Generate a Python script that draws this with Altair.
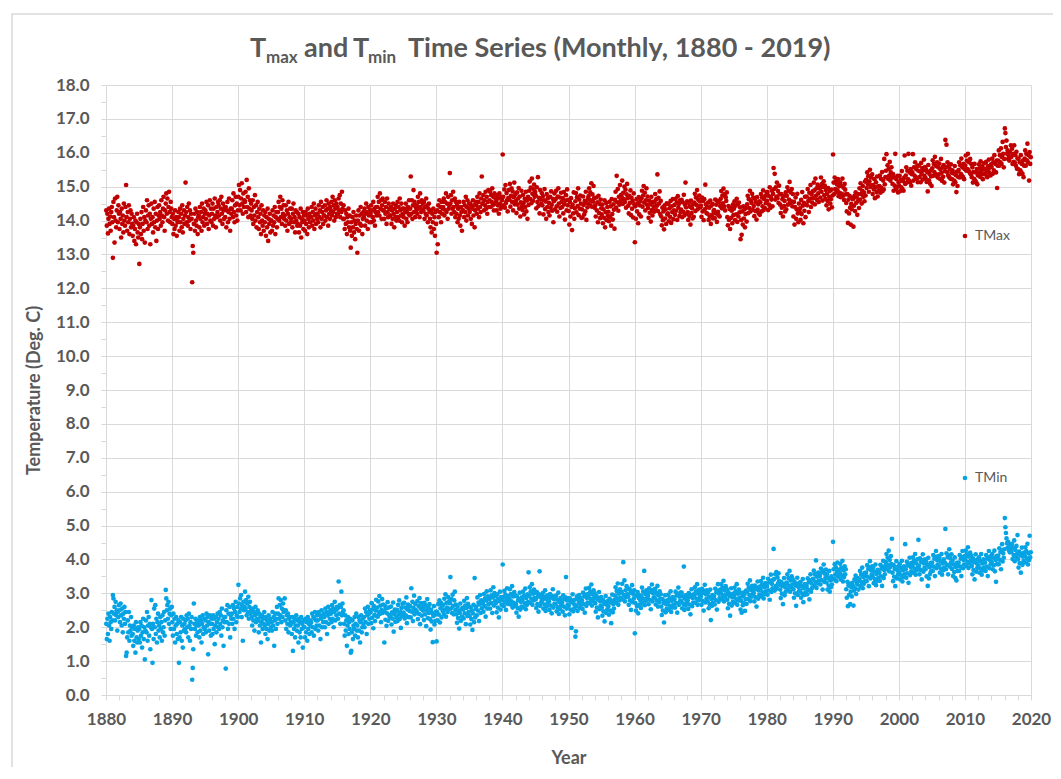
import altair as alt
import pandas as pd

# ---------------- data (monthly values) ----------------
decade_starts = [1880, 1890, 1900, 1910, 1920, 1930, 1940, 1950, 1960, 1970, 1980, 1990, 2000, 2010]

tmax_1880s = [
    14.30, 13.85, 14.20, 13.62, 14.05, 14.35, 13.90, 14.12, 13.70, 14.25, 14.40, 13.95,
    12.90, 14.55, 14.10, 13.35, 14.65, 14.00, 13.80, 14.30, 14.70, 13.95, 14.45, 14.20,
    13.75, 14.25, 14.05, 13.50, 14.35, 13.90, 14.15, 13.65, 14.50, 14.00, 13.85, 14.40,
    15.05, 14.10, 13.70, 14.25, 13.95, 14.45, 13.60, 14.05, 14.30, 13.80, 14.20, 13.90,
    13.55, 13.85, 14.10, 13.40, 13.75, 14.00, 13.30, 13.95, 14.20, 13.65, 13.50, 13.90,
    12.72, 13.80, 14.05, 13.60, 14.25, 13.45, 13.90, 14.40, 13.70, 14.10, 13.35, 14.00,
    14.30, 13.95, 14.60, 13.75, 14.15, 14.45, 13.85, 14.20, 13.30, 14.05, 14.50, 13.90,
    14.10, 13.65, 14.35, 13.95, 14.55, 13.80, 14.20, 13.40, 14.00, 14.40, 13.75, 14.15,
    14.45, 14.05, 14.25, 13.85, 14.60, 14.15, 13.95, 14.35, 14.70, 14.10, 13.70, 14.30,
    14.50, 14.80, 14.20, 14.65, 14.00, 14.40, 14.85, 14.25, 13.95, 14.55, 14.35, 14.10,
]
tmax_1890s = [
    13.90, 14.20, 13.60, 14.05, 13.75, 14.30, 13.85, 14.10, 13.55, 14.00, 13.95, 14.25,
    14.10, 13.70, 14.35, 13.95, 14.20, 13.80, 14.45, 13.65, 14.05, 14.30, 13.90, 14.15,
    15.12, 14.25, 13.95, 14.40, 13.85, 14.10, 14.50, 14.00, 14.30, 13.75, 14.20, 14.05,
    12.18, 13.25, 13.05, 13.90, 14.20, 13.70, 14.35, 14.00, 13.85, 14.25, 13.60, 14.10,
    14.15, 13.80, 14.40, 14.05, 14.25, 13.70, 14.50, 13.95, 14.10, 14.35, 13.85, 14.20,
    14.30, 14.05, 14.55, 13.90, 14.20, 14.45, 13.75, 14.15, 14.60, 14.00, 14.35, 13.95,
    14.20, 14.50, 13.85, 14.35, 14.05, 14.65, 14.15, 13.80, 14.40, 14.10, 14.25, 14.55,
    14.45, 14.15, 14.60, 14.00, 14.35, 14.70, 14.20, 13.90, 14.50, 14.30, 14.05, 14.40,
    14.10, 14.40, 13.80, 14.30, 14.55, 13.95, 14.25, 14.65, 14.05, 13.70, 14.35, 14.20,
    14.35, 14.60, 14.10, 14.80, 14.25, 13.95, 14.45, 14.70, 14.15, 14.50, 14.00, 14.30,
]
tmax_1900s = [
    14.70, 15.05, 14.45, 14.90, 14.30, 14.65, 15.10, 14.50, 14.20, 14.80, 14.40, 14.60,
    14.55, 14.85, 14.25, 15.20, 14.40, 14.70, 14.10, 14.95, 14.35, 14.60, 14.15, 14.50,
    14.30, 14.05, 14.60, 13.90, 14.40, 14.15, 14.75, 14.00, 14.45, 13.80, 14.25, 14.55,
    14.10, 13.75, 14.35, 13.95, 14.20, 13.60, 14.45, 14.00, 13.85, 14.30, 13.70, 14.15,
    13.95, 14.25, 13.55, 14.10, 13.80, 14.35, 13.40, 14.05, 13.90, 14.20, 13.65, 14.00,
    14.00, 13.70, 14.30, 13.85, 14.15, 13.95, 14.40, 13.60, 14.10, 14.25, 13.80, 14.05,
    14.25, 14.55, 14.00, 14.40, 14.70, 14.10, 14.35, 13.90, 14.60, 14.20, 14.45, 14.05,
    14.15, 13.85, 14.45, 14.00, 14.30, 13.70, 14.20, 14.55, 13.90, 14.10, 14.35, 13.95,
    14.05, 14.35, 13.80, 14.20, 14.50, 13.95, 14.10, 13.65, 14.30, 14.00, 14.25, 13.85,
    13.90, 14.20, 13.65, 14.10, 13.85, 14.35, 13.50, 14.05, 13.95, 14.25, 13.75, 14.15,
]
tmax_1910s = [
    14.00, 13.70, 14.25, 13.90, 14.15, 13.60, 14.35, 14.05, 13.80, 14.20, 13.95, 14.10,
    14.10, 14.40, 13.85, 14.25, 14.00, 14.50, 13.75, 14.15, 14.35, 13.90, 14.20, 14.05,
    14.20, 13.95, 14.45, 14.10, 14.30, 13.80, 14.55, 14.05, 14.25, 14.40, 13.90, 14.15,
    14.15, 14.45, 14.00, 14.30, 14.60, 14.10, 14.35, 13.85, 14.50, 14.20, 14.05, 14.40,
    14.30, 14.55, 14.15, 14.70, 14.25, 14.45, 14.00, 14.60, 14.35, 14.10, 14.50, 14.20,
    14.40, 14.20, 14.65, 14.30, 14.75, 14.10, 14.50, 14.25, 14.85, 14.35, 14.05, 14.45,
    14.05, 13.75, 14.30, 13.90, 14.20, 13.60, 14.10, 13.95, 14.35, 13.80, 14.15, 13.70,
    13.20, 13.95, 13.55, 14.10, 13.80, 14.25, 13.65, 14.00, 13.45, 13.90, 14.15, 13.75,
    13.05, 14.00, 14.30, 13.70, 14.15, 13.90, 14.40, 13.85, 14.20, 13.60, 14.05, 14.25,
    14.10, 14.35, 13.85, 14.20, 14.50, 14.00, 14.25, 13.75, 14.40, 14.15, 13.95, 14.30,
]
tmax_1920s = [
    14.20, 14.45, 13.95, 14.30, 14.10, 14.55, 14.00, 14.35, 13.85, 14.25, 14.40, 14.15,
    14.40, 14.70, 14.25, 14.55, 14.15, 14.80, 14.35, 14.60, 14.05, 14.45, 14.65, 14.30,
    14.30, 14.05, 14.55, 14.20, 14.40, 13.90, 14.65, 14.25, 14.10, 14.50, 14.35, 14.15,
    14.15, 14.40, 13.90, 14.30, 14.05, 14.50, 14.20, 13.80, 14.35, 14.10, 14.45, 14.00,
    14.25, 14.55, 14.10, 14.40, 14.00, 14.65, 14.30, 14.15, 14.50, 13.95, 14.35, 14.20,
    14.10, 14.35, 13.85, 14.25, 14.50, 14.05, 14.30, 13.95, 14.40, 14.20, 14.60, 14.15,
    14.35, 15.30, 14.20, 14.60, 14.05, 14.45, 14.90, 14.25, 14.55, 14.10, 14.40, 14.30,
    14.45, 14.20, 14.70, 14.35, 14.55, 14.10, 14.80, 14.40, 14.25, 14.60, 14.30, 14.50,
    14.30, 14.55, 14.05, 14.40, 14.20, 14.65, 14.15, 14.45, 13.95, 14.35, 14.50, 14.25,
    14.05, 13.80, 14.30, 13.65, 14.20, 13.95, 14.35, 13.75, 14.10, 13.55, 14.25, 13.90,
]
tmax_1930s = [
    13.05, 14.30, 13.30, 14.45, 14.10, 14.60, 14.25, 14.40, 13.95, 14.55, 14.20, 14.35,
    14.40, 14.65, 14.15, 14.55, 14.30, 14.80, 14.25, 14.50, 14.05, 14.70, 14.35, 14.45,
    15.40, 14.50, 14.75, 14.20, 14.60, 14.35, 14.85, 14.40, 14.25, 14.65, 14.10, 14.55,
    14.20, 14.45, 13.95, 14.35, 14.05, 14.55, 14.15, 13.85, 14.40, 14.25, 13.70, 14.30,
    14.30, 14.55, 14.10, 14.45, 14.25, 14.70, 14.00, 14.40, 14.60, 14.15, 14.35, 14.50,
    14.25, 14.50, 14.05, 14.40, 13.90, 14.35, 14.60, 14.15, 14.45, 13.80, 14.30, 14.55,
    14.45, 14.20, 14.70, 14.35, 14.55, 14.10, 14.80, 14.40, 14.25, 14.65, 15.30, 14.50,
    14.50, 14.75, 14.30, 14.60, 14.45, 14.85, 14.35, 14.70, 14.20, 14.55, 14.90, 14.40,
    14.60, 14.85, 14.40, 14.75, 14.55, 14.95, 14.45, 14.70, 14.30, 14.80, 14.50, 14.65,
    14.55, 14.30, 14.75, 14.45, 14.65, 14.20, 14.80, 14.50, 14.35, 14.70, 14.40, 14.60,
]
tmax_1940s = [
    15.95, 14.70, 14.45, 14.92, 14.38, 15.05, 14.52, 14.81, 14.60, 14.27, 14.66, 14.90,
    14.62, 15.08, 14.41, 14.73, 14.95, 14.55, 14.86, 14.30, 14.69, 15.12, 14.48, 14.77,
    14.58, 14.22, 14.83, 14.47, 14.65, 14.96, 14.35, 14.71, 14.12, 14.54, 14.88, 14.43,
    14.31, 14.76, 14.52, 14.18, 14.64, 14.40, 14.85, 14.27, 14.59, 14.05, 14.70, 14.46,
    14.88, 15.15, 14.63, 14.97, 14.51, 15.24, 14.79, 14.58, 14.92, 15.06, 14.70, 14.84,
    14.74, 14.36, 14.98, 14.55, 15.28, 14.43, 14.67, 14.21, 14.90, 14.62, 14.49, 14.81,
    14.45, 14.72, 14.18, 14.60, 14.93, 14.34, 14.56, 14.05, 14.78, 14.40, 14.66, 14.25,
    14.52, 14.15, 14.70, 14.38, 14.86, 14.47, 14.29, 14.64, 13.95, 14.57, 14.80, 14.33,
    14.63, 14.88, 14.42, 14.26, 14.71, 14.95, 14.50, 14.12, 14.68, 14.37, 14.82, 14.55,
    14.40, 14.66, 14.21, 14.84, 14.48, 14.03, 14.59, 14.75, 14.30, 14.92, 14.45, 14.61,
]
tmax_1950s = [
    14.28, 13.88, 14.55, 14.12, 14.66, 14.40, 13.72, 14.47, 14.21, 14.83, 14.05, 14.36,
    14.57, 14.81, 14.24, 14.69, 14.43, 14.95, 14.16, 14.62, 14.35, 14.74, 14.50, 14.08,
    14.33, 14.09, 14.71, 14.46, 14.18, 14.58, 14.27, 14.85, 14.02, 14.52, 14.39, 14.64,
    14.72, 14.95, 14.48, 14.83, 14.60, 15.10, 14.41, 14.77, 14.56, 15.02, 14.66, 14.38,
    14.45, 14.12, 14.68, 14.30, 14.54, 13.95, 14.73, 14.22, 14.49, 14.07, 14.62, 14.36,
    14.18, 14.47, 13.92, 14.33, 14.08, 14.60, 13.80, 14.25, 14.52, 14.01, 14.40, 14.14,
    14.26, 13.98, 14.55, 14.10, 14.42, 13.85, 14.63, 14.19, 14.03, 14.48, 14.32, 13.76,
    14.61, 14.85, 14.38, 15.32, 14.54, 14.93, 14.29, 14.70, 14.47, 15.05, 14.58, 14.76,
    14.70, 15.18, 14.49, 14.82, 14.63, 15.00, 14.55, 14.91, 14.38, 14.77, 15.08, 14.66,
    14.44, 14.21, 14.73, 14.52, 14.89, 14.16, 14.67, 14.35, 14.58, 14.09, 14.80, 14.48,
]
tmax_1960s = [
    13.36, 14.42, 14.05, 14.63, 14.27, 14.51, 13.92, 14.69, 14.18, 14.45, 14.58, 14.12,
    14.66, 14.88, 14.41, 14.74, 15.02, 14.53, 14.82, 14.30, 14.60, 14.95, 14.47, 14.71,
    14.37, 14.08, 14.59, 14.23, 14.48, 13.97, 14.70, 14.31, 14.15, 14.55, 14.42, 14.26,
    14.55, 14.78, 14.32, 14.63, 14.44, 15.36, 14.28, 14.67, 14.50, 14.86, 14.19, 14.58,
    14.12, 13.86, 14.38, 14.01, 14.27, 13.74, 14.45, 14.06, 14.33, 13.90, 14.51, 14.18,
    14.21, 14.49, 13.98, 14.36, 14.11, 14.58, 13.93, 14.42, 14.25, 14.63, 14.04, 14.30,
    14.46, 14.17, 14.64, 14.29, 14.53, 14.02, 14.72, 14.38, 14.49, 14.13, 14.60, 14.24,
    14.32, 14.61, 14.10, 14.54, 14.26, 14.76, 14.15, 14.47, 15.12, 14.39, 14.20, 14.57,
    14.25, 14.02, 14.52, 14.14, 14.41, 13.88, 14.59, 14.22, 14.36, 14.06, 14.48, 14.11,
    14.53, 14.79, 14.28, 14.68, 14.46, 14.90, 14.33, 14.62, 14.41, 14.74, 14.57, 14.39,
]
tmax_1970s = [
    14.44, 14.11, 14.68, 14.27, 14.58, 14.01, 14.63, 14.33, 15.06, 14.48, 14.22, 14.40,
    14.20, 14.53, 14.02, 14.38, 14.12, 14.59, 13.90, 14.44, 14.17, 14.49, 14.06, 14.28,
    14.31, 14.07, 14.62, 14.21, 14.47, 13.96, 14.58, 14.26, 14.16, 14.55, 14.12, 14.43,
    14.64, 14.87, 14.36, 14.74, 14.51, 14.94, 14.42, 14.78, 14.30, 14.69, 14.58, 14.83,
    14.10, 13.86, 14.43, 14.02, 14.34, 13.75, 14.38, 14.08, 14.29, 13.92, 14.47, 14.16,
    14.35, 14.57, 14.01, 14.44, 14.18, 14.64, 13.96, 14.49, 14.12, 14.53, 14.24, 14.39,
    13.45, 14.02, 13.58, 14.27, 13.88, 14.42, 14.06, 14.33, 13.80, 14.19, 14.37, 13.97,
    14.48, 14.73, 14.22, 14.63, 14.37, 14.88, 14.27, 14.58, 14.52, 14.79, 14.32, 14.68,
    14.43, 14.13, 14.64, 14.28, 14.54, 14.03, 14.69, 14.32, 14.48, 14.21, 14.57, 14.17,
    14.54, 14.78, 14.27, 14.68, 14.42, 14.89, 14.31, 14.63, 14.37, 14.73, 14.51, 14.84,
]
tmax_1980s = [
    14.58, 14.84, 14.31, 14.73, 14.47, 14.98, 14.37, 14.69, 14.62, 14.88, 14.42, 14.79,
    15.55, 14.93, 15.38, 14.62, 14.98, 14.71, 15.12, 14.66, 14.87, 14.52, 15.03, 14.77,
    14.47, 14.22, 14.78, 14.38, 14.63, 14.12, 14.72, 14.43, 14.58, 14.27, 14.83, 14.33,
    14.73, 14.98, 14.47, 14.88, 14.62, 15.14, 14.52, 14.83, 14.57, 14.93, 14.42, 14.78,
    14.12, 14.55, 13.88, 14.40, 14.68, 14.05, 14.33, 14.79, 14.21, 13.95, 14.50, 14.27,
    14.36, 14.02, 14.61, 14.19, 14.84, 14.44, 13.92, 14.52, 14.29, 14.70, 14.10, 14.47,
    14.71, 14.45, 14.93, 14.58, 14.25, 14.82, 14.64, 15.05, 14.40, 14.77, 14.53, 14.86,
    14.66, 15.12, 14.89, 14.48, 15.24, 14.73, 14.95, 14.61, 15.06, 14.80, 14.55, 15.00,
    14.94, 14.68, 15.27, 14.85, 15.08, 14.59, 14.99, 15.16, 14.75, 15.03, 14.64, 14.90,
    14.45, 14.79, 14.58, 14.96, 14.33, 14.70, 14.87, 14.50, 14.63, 14.91, 14.39, 14.74,
]
tmax_1990s = [
    15.95, 15.12, 14.78, 15.27, 14.93, 15.16, 14.84, 15.07, 14.89, 15.22, 14.72, 15.01,
    14.82, 15.13, 14.69, 15.02, 14.79, 15.24, 14.73, 14.97, 14.61, 15.08, 14.91, 14.77,
    14.52, 14.27, 14.78, 13.93, 14.62, 14.21, 14.73, 14.38, 13.88, 14.49, 14.33, 14.67,
    14.63, 13.82, 14.44, 14.73, 14.28, 14.83, 14.52, 14.68, 14.17, 14.57, 14.78, 14.37,
    14.95, 14.62, 15.10, 14.78, 14.50, 14.88, 15.02, 14.70, 14.83, 14.57, 15.15, 14.74,
    15.20, 14.96, 15.42, 15.08, 15.31, 14.85, 15.16, 15.50, 14.99, 15.27, 15.05, 15.36,
    14.78, 15.05, 14.92, 15.22, 14.66, 14.98, 15.13, 14.84, 15.30, 14.71, 15.01, 14.89,
    15.02, 15.33, 14.82, 15.23, 14.97, 15.43, 14.87, 15.18, 14.92, 15.82, 15.07, 15.28,
    15.47, 15.96, 15.28, 15.63, 15.23, 15.52, 15.33, 15.73, 15.18, 15.42, 15.57, 15.27,
    15.08, 15.37, 14.88, 15.27, 15.03, 15.97, 14.93, 15.22, 14.98, 15.32, 14.83, 15.13,
]
tmax_2000s = [
    15.03, 15.32, 14.87, 15.21, 14.98, 15.46, 14.93, 15.16, 14.88, 15.26, 15.92, 15.08,
    15.33, 15.57, 15.12, 15.47, 15.22, 15.97, 15.18, 15.42, 15.13, 15.52, 15.03, 15.37,
    15.42, 15.96, 15.18, 15.57, 15.33, 15.72, 15.28, 15.52, 15.23, 15.62, 15.13, 15.47,
    15.62, 15.28, 15.45, 15.13, 15.70, 15.37, 15.55, 15.21, 15.48, 15.80, 15.32, 15.58,
    15.25, 15.51, 15.14, 15.43, 14.86, 15.64, 15.19, 15.38, 15.09, 15.47, 15.30, 15.02,
    15.54, 15.78, 15.32, 15.67, 15.43, 15.88, 15.37, 15.61, 15.33, 15.72, 15.27, 15.57,
    15.36, 15.68, 15.23, 15.51, 15.82, 15.40, 15.17, 15.58, 15.29, 15.64, 15.12, 15.46,
    16.38, 15.57, 16.24, 15.43, 15.72, 15.33, 15.62, 15.28, 15.52, 15.24, 15.66, 15.41,
    15.22, 15.48, 15.07, 15.39, 15.18, 15.61, 15.13, 15.34, 14.84, 15.44, 15.02, 15.29,
    15.49, 15.72, 15.27, 15.63, 15.38, 15.83, 15.33, 15.57, 15.28, 15.67, 15.22, 15.52,
]
tmax_2010s = [
    15.63, 15.92, 15.47, 15.77, 15.52, 15.97, 15.48, 15.72, 15.42, 15.82, 15.37, 15.67,
    15.28, 15.57, 15.12, 15.43, 15.23, 15.67, 15.18, 15.42, 15.13, 15.52, 15.07, 15.33,
    15.41, 15.66, 15.54, 15.29, 15.75, 15.47, 15.36, 15.60, 15.22, 15.51, 15.69, 15.38,
    15.52, 15.36, 15.73, 15.45, 15.28, 15.61, 15.49, 15.80, 15.40, 15.57, 15.33, 15.66,
    15.58, 15.83, 15.38, 15.72, 15.48, 15.93, 15.43, 15.67, 15.42, 15.77, 14.96, 15.62,
    15.77, 16.07, 15.62, 15.93, 15.72, 16.13, 15.67, 15.87, 16.32, 15.97, 15.57, 15.82,
    16.72, 16.58, 16.17, 16.36, 15.97, 16.07, 15.82, 15.92, 15.77, 16.02, 15.87, 16.22,
    15.88, 16.12, 15.67, 15.97, 15.73, 16.22, 15.71, 15.93, 15.62, 16.03, 15.53, 15.83,
    15.52, 15.83, 15.37, 15.72, 15.48, 15.93, 15.42, 15.67, 15.38, 15.77, 15.28, 15.62,
    15.83, 16.07, 15.62, 15.97, 15.78, 16.27, 15.72, 15.93, 15.18, 16.02, 15.67, 15.87,
]

tmin_1880s = [
    2.10, 1.65, 2.25, 1.80, 2.40, 2.05, 1.60, 2.30, 2.15, 1.95, 2.45, 2.20,
    2.95, 2.85, 2.40, 2.60, 2.20, 2.75, 2.35, 2.50, 1.90, 2.45, 2.30, 2.65,
    2.50, 2.15, 2.70, 2.35, 2.05, 2.55, 1.85, 2.40, 2.25, 2.60, 2.10, 2.45,
    1.15, 1.25, 1.70, 2.20, 1.85, 2.45, 1.60, 2.05, 1.90, 2.30, 1.75, 2.00,
    1.80, 1.45, 2.05, 1.60, 1.95, 1.25, 2.15, 1.70, 1.55, 1.90, 2.00, 1.65,
    1.95, 1.55, 2.15, 1.75, 2.05, 1.40, 1.85, 2.25, 1.65, 2.00, 1.05, 1.90,
    2.20, 1.85, 2.45, 1.60, 2.05, 2.30, 1.75, 2.10, 1.35, 2.00, 2.80, 1.95,
    0.95, 2.10, 1.65, 2.55, 2.00, 2.65, 1.80, 2.25, 1.55, 2.15, 2.40, 1.90,
    2.05, 1.70, 2.30, 1.95, 2.15, 1.60, 2.35, 1.85, 2.00, 2.45, 1.75, 2.20,
    3.10, 2.85, 2.50, 2.65, 2.25, 2.75, 2.10, 2.40, 2.55, 1.95, 2.35, 2.60,
]
tmin_1890s = [
    2.15, 1.75, 2.40, 1.95, 2.25, 1.55, 2.05, 2.30, 1.80, 2.10, 1.65, 2.20,
    0.95, 1.70, 2.15, 1.85, 2.30, 1.60, 2.05, 1.40, 2.25, 1.90, 2.10, 1.95,
    2.20, 1.85, 2.35, 2.00, 2.25, 1.70, 2.40, 2.05, 1.60, 2.15, 1.95, 2.30,
    0.45, 0.80, 1.35, 2.70, 2.10, 1.95, 2.25, 1.75, 2.05, 2.20, 1.85, 2.15,
    2.05, 1.70, 2.30, 1.90, 2.20, 1.55, 2.10, 2.35, 1.80, 2.00, 2.25, 1.95,
    2.20, 1.85, 2.40, 2.05, 2.30, 1.20, 2.15, 1.90, 2.35, 2.10, 1.75, 2.25,
    2.10, 1.80, 2.35, 1.95, 2.25, 1.50, 2.05, 2.30, 1.85, 2.15, 2.40, 2.00,
    2.25, 1.95, 2.45, 2.10, 2.35, 1.75, 2.55, 2.00, 2.20, 1.45, 2.30, 2.15,
    2.30, 0.78, 2.50, 2.15, 2.65, 1.95, 2.40, 2.10, 2.60, 1.70, 2.35, 2.25,
    2.40, 2.10, 2.65, 2.25, 2.55, 1.95, 2.45, 2.75, 2.15, 2.35, 2.60, 2.30,
]
tmin_1900s = [
    3.25, 2.70, 2.45, 2.85, 2.55, 2.95, 2.30, 2.65, 1.60, 2.75, 2.50, 2.60,
    3.05, 2.55, 2.80, 2.35, 2.70, 2.45, 2.90, 2.25, 2.60, 2.75, 2.40, 2.50,
    2.30, 2.05, 2.55, 2.20, 2.45, 1.90, 2.35, 2.60, 2.15, 2.40, 2.25, 2.50,
    2.20, 1.85, 2.40, 2.05, 2.30, 1.55, 2.15, 2.35, 1.95, 2.25, 2.10, 2.45,
    2.05, 1.80, 2.30, 1.95, 2.20, 1.65, 2.10, 2.35, 1.90, 2.15, 2.25, 2.00,
    2.15, 1.90, 2.45, 2.05, 2.30, 1.45, 2.20, 2.40, 1.95, 2.25, 2.60, 2.10,
    2.40, 2.85, 2.25, 2.65, 2.35, 2.80, 2.15, 2.55, 2.30, 2.70, 2.45, 2.50,
    2.85, 2.20, 2.50, 1.95, 2.35, 2.10, 2.40, 1.85, 2.25, 2.30, 2.05, 2.15,
    2.10, 1.80, 2.30, 1.30, 2.15, 1.95, 2.25, 1.70, 2.05, 2.35, 1.90, 2.20,
    2.05, 1.55, 2.25, 1.85, 2.15, 1.70, 2.30, 1.95, 2.10, 1.40, 2.20, 2.00,
]
tmin_1910s = [
    2.00, 1.70, 2.25, 1.85, 2.15, 1.60, 2.30, 1.95, 2.10, 1.80, 2.20, 2.05,
    2.15, 1.85, 2.40, 2.00, 2.30, 1.75, 2.25, 2.45, 1.95, 2.20, 2.05, 2.35,
    2.20, 1.90, 2.45, 2.05, 2.35, 1.65, 2.25, 2.50, 2.00, 2.30, 2.15, 2.40,
    2.30, 2.00, 2.55, 2.15, 2.45, 1.80, 2.35, 2.60, 2.10, 2.40, 2.25, 2.50,
    2.40, 2.15, 2.65, 2.25, 2.55, 2.00, 2.45, 2.75, 2.20, 2.50, 2.35, 2.60,
    2.55, 2.25, 3.35, 2.40, 2.65, 2.10, 2.60, 3.05, 2.35, 2.70, 2.45, 2.50,
    2.10, 1.75, 2.35, 1.90, 2.20, 1.45, 2.05, 2.30, 1.80, 2.15, 1.95, 2.25,
    1.25, 1.30, 1.85, 2.20, 1.65, 2.05, 1.95, 2.30, 1.75, 2.10, 2.40, 1.90,
    2.05, 1.70, 2.30, 1.90, 2.20, 1.55, 2.15, 2.35, 1.85, 2.00, 2.25, 2.10,
    2.30, 2.00, 2.55, 2.15, 2.45, 1.80, 2.35, 2.60, 2.10, 2.40, 2.25, 2.50,
]
tmin_1920s = [
    2.44, 2.12, 2.71, 2.28, 2.53, 1.97, 2.62, 2.36, 2.18, 2.49, 2.81, 2.33,
    2.58, 2.31, 2.76, 2.45, 2.92, 2.39, 2.64, 2.15, 2.51, 2.83, 2.42, 2.67,
    2.47, 1.55, 2.63, 2.22, 2.55, 2.04, 2.41, 2.74, 2.19, 2.58, 2.35, 2.29,
    2.32, 2.61, 2.08, 2.44, 2.25, 2.73, 1.87, 2.38, 2.52, 2.16, 2.47, 2.29,
    2.51, 2.18, 2.66, 2.37, 2.79, 2.24, 2.45, 1.98, 2.57, 2.33, 2.69, 2.41,
    2.43, 2.72, 2.26, 2.58, 2.35, 2.88, 2.12, 2.52, 2.67, 2.30, 2.61, 2.48,
    2.62, 2.29, 3.15, 2.46, 2.75, 2.18, 2.57, 2.93, 2.38, 2.69, 2.51, 2.44,
    2.46, 2.77, 2.24, 2.63, 2.39, 2.86, 2.09, 2.55, 2.71, 2.34, 2.60, 2.49,
    2.55, 2.21, 2.72, 2.38, 2.64, 2.03, 2.50, 2.83, 2.27, 2.59, 2.42, 2.68,
    2.24, 1.93, 2.51, 2.17, 2.42, 1.56, 2.33, 2.62, 2.08, 2.37, 2.19, 2.46,
]
tmin_1930s = [
    1.58, 2.45, 2.20, 2.68, 2.37, 2.79, 2.14, 2.56, 2.71, 2.29, 2.63, 2.48,
    2.66, 2.39, 2.84, 2.52, 2.97, 2.31, 2.72, 2.58, 2.45, 2.89, 2.54, 2.77,
    2.71, 3.48, 2.55, 2.83, 2.42, 2.96, 2.63, 2.38, 2.79, 3.05, 2.51, 2.67,
    2.38, 2.13, 2.61, 2.27, 2.49, 1.96, 2.42, 2.70, 2.19, 2.53, 2.31, 2.57,
    2.52, 2.26, 2.78, 2.41, 2.64, 2.09, 2.57, 2.86, 2.33, 2.69, 2.45, 2.61,
    2.33, 2.08, 2.58, 2.24, 2.49, 1.92, 2.41, 2.66, 2.15, 3.45, 2.29, 2.54,
    2.61, 2.35, 2.88, 2.49, 2.73, 2.18, 2.67, 2.95, 2.42, 2.79, 2.56, 2.70,
    2.74, 2.46, 2.98, 2.62, 2.85, 2.31, 2.79, 3.06, 2.55, 2.91, 2.68, 2.83,
    2.83, 2.55, 3.09, 2.71, 2.94, 2.42, 2.88, 3.18, 2.64, 3.01, 2.77, 2.92,
    2.72, 2.44, 2.97, 2.58, 2.84, 2.29, 2.77, 3.05, 2.52, 2.89, 2.66, 2.81,
]
tmin_1940s = [
    3.85, 2.88, 2.62, 3.07, 2.74, 2.96, 2.51, 2.83, 3.15, 2.69, 2.92, 2.78,
    2.85, 3.12, 2.67, 2.98, 2.76, 3.21, 2.58, 2.91, 2.72, 3.04, 2.63, 2.94,
    2.68, 2.43, 2.91, 2.57, 2.79, 2.31, 2.84, 3.02, 2.52, 2.75, 2.61, 2.88,
    2.81, 3.05, 2.59, 2.93, 2.71, 3.14, 2.53, 2.86, 2.66, 2.97, 2.74, 3.62,
    2.93, 3.18, 2.72, 3.06, 2.84, 3.27, 2.66, 2.99, 2.79, 3.11, 2.87, 3.02,
    2.82, 2.57, 3.04, 2.68, 2.91, 2.46, 2.97, 3.65, 2.63, 2.88, 2.74, 2.95,
    2.79, 3.01, 2.55, 2.89, 2.67, 3.09, 2.48, 2.83, 2.61, 2.94, 2.72, 2.86,
    2.76, 2.51, 2.98, 2.64, 2.87, 2.41, 2.92, 3.12, 2.58, 2.83, 2.69, 2.90,
    2.68, 2.93, 2.47, 2.81, 2.59, 3.02, 2.39, 2.74, 2.53, 2.86, 2.64, 2.77,
    2.72, 2.46, 2.94, 2.61, 2.83, 2.35, 2.88, 3.48, 2.55, 2.79, 2.66, 2.85,
]
tmin_1950s = [
    2.63, 2.38, 2.85, 2.52, 2.74, 1.98, 2.79, 2.97, 2.47, 2.69, 2.56, 2.81,
    1.72, 1.88, 2.62, 2.91, 2.48, 2.83, 2.71, 2.95, 2.57, 2.86, 2.66, 2.78,
    2.79, 2.54, 3.02, 2.68, 2.91, 2.43, 2.96, 3.14, 2.63, 2.86, 2.73, 2.98,
    2.92, 3.16, 2.71, 3.05, 2.83, 3.26, 2.64, 2.97, 2.78, 3.09, 2.86, 3.01,
    2.71, 2.46, 2.93, 2.58, 2.82, 2.29, 2.87, 3.04, 2.53, 2.77, 2.64, 2.89,
    2.58, 2.34, 2.81, 2.47, 2.69, 2.17, 2.74, 2.92, 2.42, 2.66, 2.53, 2.77,
    2.62, 2.37, 2.84, 2.49, 2.73, 2.12, 2.78, 2.96, 2.44, 2.68, 2.55, 2.80,
    2.93, 3.18, 2.72, 3.07, 2.85, 3.29, 2.66, 2.99, 2.79, 3.12, 2.87, 3.03,
    3.04, 3.28, 2.82, 3.92, 2.95, 3.38, 2.76, 3.09, 2.89, 3.21, 2.97, 3.13,
    2.91, 2.66, 3.13, 2.79, 3.02, 2.51, 3.07, 3.24, 2.74, 2.98, 2.85, 3.09,
]
tmin_1960s = [
    1.82, 2.71, 2.49, 2.93, 2.62, 3.04, 2.41, 2.86, 2.95, 2.67, 2.79, 2.57,
    2.92, 3.17, 2.71, 3.05, 2.84, 3.66, 2.65, 2.98, 2.78, 3.09, 2.86, 3.01,
    2.93, 2.68, 3.15, 2.81, 3.04, 2.53, 3.09, 3.26, 2.76, 3.00, 2.87, 3.11,
    2.88, 3.13, 2.67, 3.01, 2.79, 3.22, 2.61, 2.94, 2.74, 3.06, 2.83, 2.97,
    2.61, 2.36, 2.83, 2.49, 2.72, 2.14, 2.77, 2.94, 2.44, 2.68, 2.55, 2.79,
    2.72, 2.96, 2.51, 2.85, 2.63, 3.06, 2.45, 2.78, 2.58, 2.89, 2.66, 2.81,
    2.83, 2.58, 3.05, 2.71, 2.94, 2.43, 2.99, 3.17, 2.66, 2.90, 2.77, 3.02,
    2.77, 3.02, 2.56, 2.91, 2.69, 3.79, 2.51, 2.84, 2.64, 2.95, 2.73, 2.87,
    2.79, 2.54, 3.01, 2.67, 2.90, 2.38, 2.95, 3.12, 2.62, 2.86, 2.73, 2.97,
    2.93, 3.18, 2.72, 3.06, 2.84, 3.27, 2.66, 2.99, 2.79, 3.11, 2.87, 3.02,
]
tmin_1970s = [
    2.91, 2.66, 3.13, 2.78, 3.01, 2.49, 3.07, 3.25, 2.73, 2.97, 2.84, 3.09,
    2.77, 3.02, 2.56, 2.90, 2.68, 3.11, 2.21, 2.83, 2.63, 2.95, 2.72, 2.87,
    2.92, 2.67, 3.14, 2.80, 3.03, 2.52, 3.08, 3.27, 2.75, 2.99, 2.86, 3.11,
    3.03, 3.27, 2.82, 3.16, 2.94, 3.37, 2.76, 3.09, 2.89, 3.21, 2.97, 3.12,
    2.81, 2.56, 3.03, 2.69, 2.92, 2.34, 2.97, 3.15, 2.64, 2.88, 2.75, 2.99,
    2.93, 3.17, 2.72, 3.06, 2.84, 3.27, 2.66, 2.99, 2.79, 3.11, 2.87, 3.02,
    2.52, 2.78, 2.43, 2.91, 2.65, 3.02, 2.71, 2.96, 2.48, 2.83, 3.08, 2.69,
    3.04, 3.28, 2.83, 3.17, 2.95, 3.38, 2.77, 3.10, 2.90, 3.22, 2.98, 3.13,
    3.01, 2.76, 3.23, 2.89, 3.12, 2.61, 3.17, 3.35, 2.84, 3.08, 2.95, 3.20,
    3.12, 3.36, 2.91, 3.25, 3.03, 3.46, 2.85, 3.18, 2.98, 3.30, 3.06, 3.21,
]
tmin_1980s = [
    3.21, 2.96, 3.43, 3.09, 3.32, 2.81, 3.37, 3.55, 3.04, 3.28, 3.15, 3.40,
    4.31, 3.42, 3.08, 3.56, 3.21, 3.63, 3.14, 3.47, 3.29, 3.59, 3.36, 3.25,
    3.11, 2.86, 3.33, 2.99, 3.22, 2.68, 3.27, 3.45, 2.94, 3.18, 3.05, 3.30,
    3.32, 3.56, 3.11, 3.45, 3.23, 3.66, 3.05, 3.38, 3.18, 3.50, 3.26, 3.41,
    3.12, 2.87, 3.34, 3.00, 3.23, 2.63, 3.28, 3.46, 2.95, 3.19, 3.06, 3.31,
    3.08, 3.33, 2.87, 3.21, 2.99, 3.42, 2.74, 3.15, 2.95, 3.27, 3.03, 3.18,
    3.22, 2.97, 3.44, 3.10, 3.33, 2.82, 3.38, 3.56, 3.05, 3.29, 3.16, 3.41,
    3.43, 3.67, 3.22, 3.56, 3.34, 3.97, 3.16, 3.49, 3.29, 3.61, 3.37, 3.52,
    3.51, 3.26, 3.73, 3.39, 3.62, 3.11, 3.67, 3.85, 3.34, 3.58, 3.45, 3.70,
    3.32, 3.56, 3.11, 3.45, 3.23, 3.66, 3.05, 3.38, 3.18, 3.50, 3.26, 3.41,
]
tmin_1990s = [
    4.52, 3.71, 3.42, 3.86, 3.55, 3.77, 3.36, 3.64, 3.91, 3.49, 3.69, 3.58,
    3.62, 3.87, 3.41, 3.75, 3.53, 3.96, 3.35, 3.68, 3.48, 3.80, 3.56, 3.71,
    3.12, 2.87, 3.34, 2.62, 3.23, 2.95, 3.28, 2.68, 3.05, 3.19, 2.91, 3.31,
    3.22, 2.64, 3.08, 3.41, 3.15, 3.52, 2.98, 3.33, 3.26, 3.45, 3.11, 3.37,
    3.42, 3.66, 3.21, 3.55, 3.33, 3.76, 3.15, 3.48, 3.28, 3.60, 3.36, 3.51,
    3.61, 3.36, 3.83, 3.49, 3.72, 3.21, 3.77, 3.95, 3.44, 3.68, 3.55, 3.80,
    3.51, 3.76, 3.30, 3.64, 3.42, 3.85, 3.24, 3.57, 3.37, 3.69, 3.45, 3.60,
    3.62, 3.37, 3.84, 3.50, 3.73, 3.22, 3.78, 3.96, 3.45, 3.69, 3.56, 3.81,
    3.92, 4.16, 3.71, 4.05, 3.83, 4.26, 3.65, 3.98, 3.78, 4.10, 3.86, 4.61,
    3.61, 3.36, 3.83, 3.49, 3.72, 3.21, 3.77, 3.95, 3.44, 3.68, 3.55, 3.80,
]
tmin_2000s = [
    3.62, 3.86, 3.41, 3.75, 3.53, 3.96, 3.35, 3.68, 3.48, 3.80, 3.56, 4.45,
    3.71, 3.46, 3.93, 3.59, 3.82, 3.31, 3.87, 4.05, 3.54, 3.78, 3.65, 3.90,
    3.82, 4.06, 3.61, 3.95, 3.73, 4.16, 3.55, 3.88, 3.68, 4.00, 3.76, 4.58,
    3.81, 3.56, 4.03, 3.69, 3.92, 3.41, 3.97, 4.15, 3.64, 3.88, 3.75, 4.00,
    3.71, 3.95, 3.50, 3.84, 3.22, 4.05, 3.44, 3.77, 3.57, 3.89, 3.65, 3.80,
    3.91, 3.66, 4.13, 3.79, 4.02, 3.51, 4.07, 4.25, 3.74, 3.98, 3.85, 4.10,
    3.82, 4.06, 3.61, 3.95, 3.73, 4.16, 3.55, 3.88, 3.68, 4.00, 3.76, 3.91,
    4.90, 3.71, 4.18, 3.84, 4.07, 3.56, 4.12, 4.30, 3.79, 4.03, 3.90, 4.15,
    3.72, 3.96, 3.51, 3.85, 3.63, 4.06, 3.45, 3.78, 3.38, 3.90, 3.66, 3.81,
    3.91, 3.66, 4.13, 3.79, 4.02, 3.51, 4.07, 4.25, 3.74, 3.98, 3.85, 4.10,
]
tmin_2010s = [
    4.02, 4.26, 3.81, 4.15, 3.93, 4.36, 3.75, 4.08, 3.88, 4.20, 3.96, 4.11,
    3.81, 3.56, 4.03, 3.69, 3.92, 3.41, 3.97, 4.15, 3.64, 3.88, 3.75, 4.00,
    3.82, 4.06, 3.61, 3.95, 3.73, 4.16, 3.55, 3.88, 3.68, 4.00, 3.76, 3.91,
    3.91, 3.66, 4.13, 3.79, 4.02, 3.51, 4.07, 4.25, 3.74, 3.98, 3.85, 4.10,
    3.92, 4.16, 3.71, 4.05, 3.83, 4.26, 3.65, 3.98, 3.34, 4.10, 3.86, 4.01,
    4.11, 3.86, 4.33, 3.99, 4.22, 3.71, 4.27, 4.45, 3.94, 4.18, 4.05, 4.30,
    5.22, 4.95, 4.78, 4.62, 4.48, 4.35, 4.52, 4.28, 4.40, 4.21, 4.44, 4.33,
    4.22, 4.46, 4.01, 4.35, 4.13, 4.56, 3.95, 4.28, 4.08, 4.40, 4.16, 4.72,
    4.01, 3.76, 4.23, 3.89, 4.12, 3.61, 4.17, 4.35, 3.84, 4.08, 3.95, 4.20,
    4.12, 4.36, 3.91, 4.25, 4.03, 4.46, 3.85, 4.18, 3.98, 4.70, 4.06, 4.21,
]

series_names = ["TMax", "TMin"]
series_colors = ["#c00000", "#06a3e4"]
tmax_decades = [tmax_1880s, tmax_1890s, tmax_1900s, tmax_1910s, tmax_1920s, tmax_1930s, tmax_1940s,
                tmax_1950s, tmax_1960s, tmax_1970s, tmax_1980s, tmax_1990s, tmax_2000s, tmax_2010s]
tmin_decades = [tmin_1880s, tmin_1890s, tmin_1900s, tmin_1910s, tmin_1920s, tmin_1930s, tmin_1940s,
                tmin_1950s, tmin_1960s, tmin_1970s, tmin_1980s, tmin_1990s, tmin_2000s, tmin_2010s]

rows = []
for name, decades in zip(series_names, [tmax_decades, tmin_decades]):
    for start, vals in zip(decade_starts, decades):
        for i, v in enumerate(vals):
            rows.append({"t": start + (i + 0.5) / 12.0, "v": v, "s": name})
df = pd.DataFrame(rows)

# ---------------- styling ----------------
FONT = "Lato"
TXT = "#595959"
GRID = "#d9d9d9"
W, H = 925, 610

x_vals = list(range(1880, 2021, 2))
y_vals = [i * 0.5 for i in range(37)]

points = alt.Chart(df).mark_circle(size=22, opacity=1).encode(
    x=alt.X(
        "t:Q",
        scale=alt.Scale(domain=[1880, 2020], nice=False, zero=False),
        axis=alt.Axis(
            values=x_vals, format="d",
            labelExpr="datum.value % 10 === 0 ? datum.label : ''",
            gridOpacity={"condition": {"test": "datum.value % 10 === 0", "value": 1}, "value": 0},
            title="Year", labelOverlap=False, labelFlush=False,
            labelPadding=11, titlePadding=22,
        ),
    ),
    y=alt.Y(
        "v:Q",
        scale=alt.Scale(domain=[0, 18], nice=False),
        axis=alt.Axis(
            values=y_vals,
            labelExpr="datum.value % 1 === 0 ? format(datum.value, '.1f') : ''",
            gridOpacity={"condition": {"test": "datum.value % 1 === 0", "value": 1}, "value": 0},
            title="Temperature (Deg. C)", labelOverlap=False, labelFlush=False,
            labelPadding=12, titlePadding=12,
        ),
    ),
    color=alt.Color("s:N", scale=alt.Scale(domain=series_names, range=series_colors), legend=None),
)


def text_at(s, x, y, size, weight="bold", baseline="alphabetic"):
    return alt.Chart(alt.Data(values=[{}])).mark_text(
        text=s, font=FONT, fontSize=size, fontWeight=weight, color=TXT,
        align="left", baseline=baseline,
    ).encode(x=alt.value(x), y=alt.value(y))


def dot_at(color, x, y):
    return alt.Chart(alt.Data(values=[{}])).mark_circle(size=22, opacity=1, color=color).encode(
        x=alt.value(x), y=alt.value(y))


border = alt.Chart(alt.Data(values=[{}])).mark_rect(
    fillOpacity=0, stroke=GRID, strokeWidth=1.5
).encode(x=alt.value(-94), x2=alt.value(1000), y=alt.value(-71), y2=alt.value(720))

title_layers = [
    text_at("T", 144, -28, 27),
    text_at("max", 160, -22, 17),
    text_at("and", 198, -28, 27),
    text_at("T", 247, -28, 27),
    text_at("min", 262, -22, 17),
    text_at("Time Series (Monthly, 1880 - 2019)", 302, -28, 27),
]
legend_layers = [
    dot_at(series_colors[0], 859, 151),
    text_at("TMax", 869, 151, 14, weight="normal", baseline="middle"),
    dot_at(series_colors[1], 859, 393),
    text_at("TMin", 869, 393, 14, weight="normal", baseline="middle"),
]

chart = alt.layer(border, points, *title_layers, *legend_layers).properties(
    width=W, height=H,
    autosize=alt.AutoSizeParams(type="none"),
    padding={"left": 98, "top": 77, "right": 22, "bottom": 72},
).configure_view(stroke=None).configure_axis(
    labelFont=FONT, labelFontSize=17, labelFontWeight="bold", labelColor=TXT,
    titleFont=FONT, titleFontSize=18, titleFontWeight="bold", titleColor=TXT,
    gridColor=GRID, gridWidth=1, domainColor=GRID, tickColor=GRID, tickSize=5,
)

chart.save("out.html", embed_options={"renderer": "svg", "actions": False})
